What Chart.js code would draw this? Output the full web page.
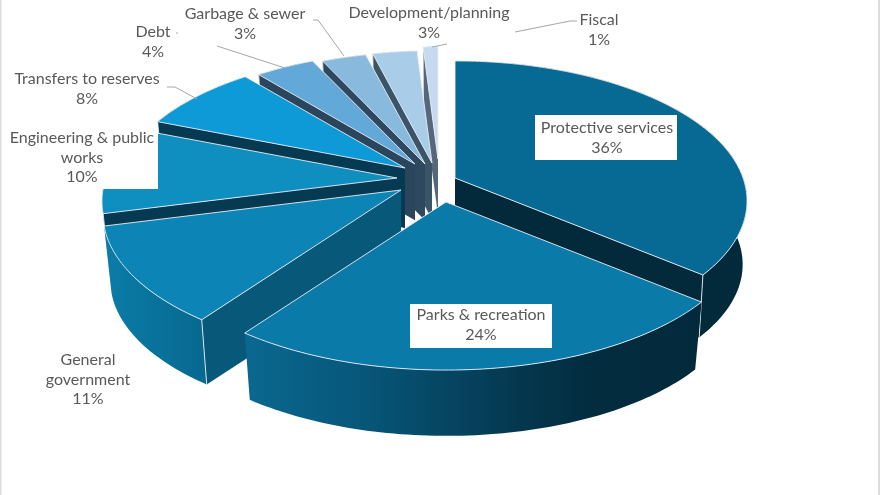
<!DOCTYPE html>
<html>
<head>
<meta charset="utf-8">
<style>html,body{margin:0;padding:0;background:#fff;overflow:hidden}canvas{display:block}</style>
<script src="https://cdn.jsdelivr.net/npm/chart.js@4"></script>
</head>
<body>
<canvas id="c" width="880" height="495"></canvas>
<script>
const categories = ['Protective services','Parks & recreation','General government','Engineering & public works','Transfers to reserves','Debt','Garbage & sewer','Development/planning','Fiscal'];
const shares = [36,24,11,10,8,4,3,3,1];

// appearance of each slice
const topColors  = ['#076a94','#0a7aa8','#0c85b6','#0f8fc0','#0e9ad6','#62a8d8','#8ab9de','#a9cce8','#c5daee'];
const faceColors = ['#032a3b','#032a3b','#08587a','#053a52','#053a52','#2a455c','#2e485f','#3c5468','#55677a'];
const wallStops  = [
  [[0,'#032a3b'],[1,'#032a3b']],
  [[0,'#0a6890'],[.25,'#07577a'],[.55,'#053c55'],[.75,'#032c3f'],[1,'#032a3b']],
  [[0,'#0b7ca8'],[1,'#07688f']],
  [[0,'#0b7ca8'],[1,'#0b7ca8']],
  [[0,'#0b7ca8'],[1,'#0b7ca8']],
  [[0,'#2a455c'],[1,'#2a455c']],
  [[0,'#2e485f'],[1,'#2e485f']],
  [[0,'#3c5468'],[1,'#3c5468']],
  [[0,'#55677a'],[1,'#55677a']]
];
// exploded apex of each slice and its perspective scale
const apexX  = [455,446,401,397,405,415,425,432,438];
const apexY  = [178,202,190,178,168,164,164,163,159];
const sScale = [.97,1,.99,.98,.95,.93,.93,.93,.93];
const bottomScale = [.985,.975,.975,.975,.975,.975,.975,.975,.975];
const RX = 297, RY = 140.5, KP = .164, DEPTH = 70;

const labelFont = '16px Lato, "Open Sans", sans-serif';
const labelColor = '#595959';
const labelBoxes = [[535,115,142,45],[410,304,142,44],null,[8,123,150,66],null,null,null,null,null];
const labelLines = [['Protective services'],['Parks & recreation'],['General','government'],['Engineering & public','works'],['Transfers to reserves'],['Debt'],['Garbage & sewer'],['Development/planning'],['Fiscal']];
const labelCx = [607,481,88,82,87,153,245,429,599];
const labelY0 = [128,315,360,138,79,32,14,13,20];
const leaderPaths = [
  [[167,87],[175,87],[197,99]],
  [[176,33],[178,33]],
  [[217,46],[285,68]],
  [[313,20],[318,20],[344,56]],
  [[432,47],[447,44]],
  [[515,32],[570,21],[577,21]]
];

function project(i, a, bottom){
  const u = Math.cos(a), v = Math.sin(a), w = 1 - KP*v;
  const s = sScale[i]*(bottom ? bottomScale[i] : 1);
  const dx = RX*u/w*s, dy = RY*v/w*s;
  return [apexX[i]+dx, apexY[i]+dy+(bottom ? DEPTH*Math.pow(sScale[i],3) : 0)];
}
function apexPt(i, bottom){
  return [apexX[i], apexY[i]+(bottom ? DEPTH*Math.pow(sScale[i],3) : 0)];
}
function poly(ctx, pts){
  ctx.beginPath();
  pts.forEach((p,n)=> n ? ctx.lineTo(p[0],p[1]) : ctx.moveTo(p[0],p[1]));
  ctx.closePath();
}

const pie3d = {
  id:'pie3d',
  beforeDraw(chart){
    const ctx = chart.ctx;
    ctx.save();
    ctx.fillStyle='#ffffff'; ctx.fillRect(0,0,880,495);
    ctx.fillStyle='#dcdcdc'; ctx.fillRect(0,0,1.5,495); ctx.fillRect(878,0,2,495);
    ctx.restore();
  },
  beforeDatasetDraw(chart, args){
    const ctx = chart.ctx, arcs = args.meta.data;
    const order = arcs.map((_,i)=>i).sort((p,q)=>{
      const m = i=>Math.sin((arcs[i].startAngle+arcs[i].endAngle)/2);
      return m(p)-m(q);
    });
    ctx.save();
    ctx.lineJoin='round';
    order.forEach(i=>{
      const arc = arcs[i], a0 = arc.startAngle, a1 = arc.endAngle;
      const n = Math.max(6, Math.ceil((a1-a0)/0.02));
      const top=[], bot=[];
      for(let k=0;k<=n;k++){
        const a = a0+(a1-a0)*k/n;
        top.push(project(i,a,false)); bot.push(project(i,a,true));
      }
      const xs = top.concat(bot).map(p=>p[0]);
      const g = ctx.createLinearGradient(Math.min(...xs),0,Math.max(...xs),0);
      wallStops[i].forEach(s=>g.addColorStop(s[0],s[1]));
      ctx.fillStyle=g;
      poly(ctx, top.concat(bot.slice().reverse())); ctx.fill();
      // visible cut faces
      const edge='rgba(232,238,243,.9)';
      ctx.fillStyle=faceColors[i];
      const showStart = Math.cos(a0) < -0.001, showEnd = Math.cos(a1) > 0.001;
      if(showStart){ poly(ctx,[apexPt(i,false),top[0],bot[0],apexPt(i,true)]); ctx.fill(); }
      if(showEnd){ poly(ctx,[apexPt(i,false),top[n],bot[n],apexPt(i,true)]); ctx.fill(); }
      // top surface
      ctx.fillStyle=topColors[i];
      poly(ctx,[apexPt(i,false)].concat(top)); ctx.fill();
      ctx.strokeStyle=edge; ctx.lineWidth=1; ctx.stroke();
      ctx.beginPath();
      if(showStart){ ctx.moveTo(top[0][0],top[0][1]); ctx.lineTo(bot[0][0],bot[0][1]); }
      if(showEnd){ ctx.moveTo(top[n][0],top[n][1]); ctx.lineTo(bot[n][0],bot[n][1]); }
      ctx.stroke();
    });
    ctx.restore();
    return false;
  },
  afterDraw(chart){
    const ctx = chart.ctx;
    ctx.save();
    ctx.strokeStyle='#a6a6a6'; ctx.lineWidth=1;
    leaderPaths.forEach(p=>{ctx.beginPath();p.forEach((q,n)=>n?ctx.lineTo(q[0],q[1]):ctx.moveTo(q[0],q[1]));ctx.stroke();});
    ctx.font=labelFont; ctx.fillStyle=labelColor; ctx.textAlign='center'; ctx.textBaseline='middle';
    categories.forEach((c,i)=>{
      if(labelBoxes[i]){ ctx.fillStyle='#ffffff'; ctx.fillRect(...labelBoxes[i]); ctx.fillStyle=labelColor; }
      const lines = labelLines[i].concat([shares[i]+'%']);
      lines.forEach((t,n)=>ctx.fillText(t,labelCx[i],labelY0[i]+n*19.5));
    });
    ctx.restore();
  }
};

new Chart(document.getElementById('c'),{
  type:'pie',
  data:{labels:categories,datasets:[{data:shares,backgroundColor:topColors,borderWidth:0,clip:false}]},
  options:{responsive:false,animation:false,rotation:0,
    plugins:{legend:{display:false},tooltip:{enabled:false}}},
  plugins:[pie3d]
});
</script>
</body>
</html>
